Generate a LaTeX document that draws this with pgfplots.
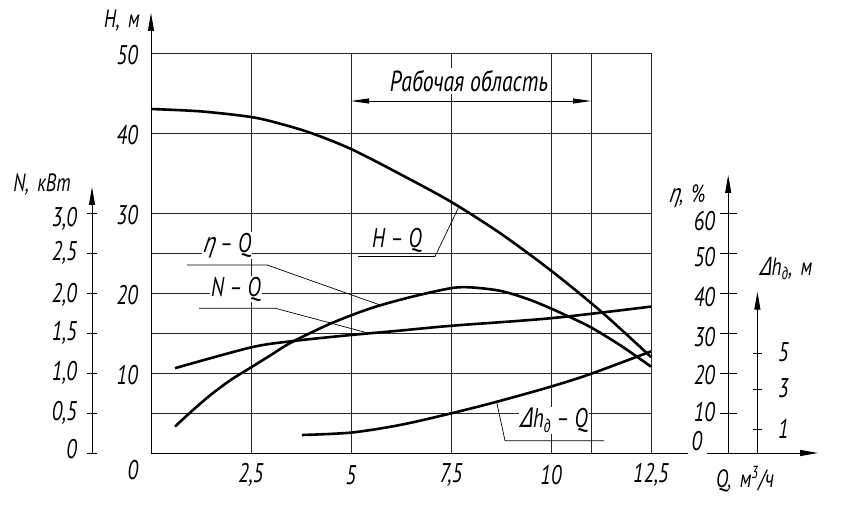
\documentclass[border=0pt]{standalone}
\usepackage{fontspec}
\setmainfont{PT Sans}[FakeStretch=0.75]
\newfontfamily\gr{DejaVu Sans}[FakeStretch=0.7,FakeSlant=0.2]
\usepackage{pgfplots}
\pgfplotsset{compat=1.18}
\usepackage{pgfplotstable}
\usetikzlibrary{arrows.meta}
\newcommand{\gostA}{\fontsize{27}{27}\selectfont\itshape}
\newcommand{\gostB}{\fontsize{25}{25}\selectfont\itshape}
\newcommand{\gostC}{\fontsize{29}{29}\selectfont\itshape}

% H-Q : head, m
\pgfplotstableread{
Q H
0 43.0
1.25 42.7
2.5 42.0
3.2 41.2
4 40.0
5 38.0
6.25 34.8
7.5 31.4
8.75 27.4
10 22.8
11.25 17.7
12.5 12.0
}\HQ
% eta-Q : efficiency, %
\pgfplotstableread{
Q eta
0.6 6.6
1.0 10.3
1.5 14.6
2.0 18.3
2.5 21.4
3.0 24.5
3.5 27.6
4.5 32.4
5.5 36.2
6.5 39.0
7.5 41.2
8.0 41.4
8.75 40.5
9.5 38.2
10.25 35.0
11 31.4
11.75 26.8
12.5 21.6
}\etaQ
% N-Q : power, kW
\pgfplotstableread{
Q N
0.6 1.06
2.5 1.32
3.56 1.40
5 1.475
6.225 1.53
7.5 1.59
10 1.685
12.5 1.83
}\NQ
% dh-Q : NPSH curve, in grid units of the H scale
\pgfplotstableread{
Q d
3.77 2.25
5 2.55
6.225 3.5
7.5 4.95
8.64 6.4
10 8.3
11 9.9
12.5 12.7
}\dhQ

\begin{document}
\begin{tikzpicture}
\begin{axis}[x=40pt,y=8pt,xmin=0,xmax=12.5,ymin=0,ymax=50,
  enlargelimits=false,clip=false,
  axis line style={draw=none},
  xtick={2.5,5,7.5,10,11,12.5},
  xticklabels={{2,5},{5},{7,5},{10},{},{12,5}},
  ytick={5,10,15,20,25,30,40,50},
  yticklabels={{},{10},{},{20},{},{30},{40},{50}},
  grid=major, grid style={black!85,line width=0.8pt},
  major tick length=0pt,
  tick label style={font=\gostA},
  xticklabel style={anchor=center,yshift=-22pt},
  yticklabel style={anchor=east,inner sep=0pt,xshift=-13pt,yshift=-2pt},
]
\addplot[black,line width=2.6pt,smooth] table[x=Q,y=H]{\HQ};
\addplot[black,line width=2.6pt,smooth] table[x=Q,y expr=\thisrow{eta}/2]{\etaQ};
\addplot[black,line width=2.6pt,smooth] table[x=Q,y expr=\thisrow{N}*10]{\NQ};
\addplot[black,line width=2.6pt,smooth] table[x=Q,y=d]{\dhQ};
\end{axis}

\begin{scope}[x=40pt,y=8pt]
% main axes
\draw[line width=1pt,-{Triangle[length=18pt,width=6pt]}] (0,0) -- (0,55);
\draw[line width=1pt] (0,0) -- (13.425,0);
\draw[line width=1pt,-{Triangle[length=18pt,width=6pt]}] (13.9,0) -- (16.675,0);
% N axis
\draw[line width=0.9pt,-{Triangle[length=18pt,width=6pt]}] (-1.475,0) -- (-1.475,33.25);
\foreach \y/\yl/\t in {0/0.5/0,5/5/{0,5},10/10/{1,0},15/15/{1,5},20/19.8/{2,0},25/25/{2,5},30/29.2/{3,0}}{
  \draw[line width=0.9pt] (-1.6,\y) -- (-1.36,\y);
  \node[anchor=east,inner sep=0pt,font=\gostA] at (-1.85,\yl) {\t};
}
% eta axis
\draw[line width=0.9pt,-{Triangle[length=18pt,width=6pt]}] (14.43,0) -- (14.43,34.75);
\foreach \y/\yl/\t in {5/5.1/10,10/9.7/20,15/14.5/30,20/19.5/40,25/24.5/50,30/29.0/60}{
  \draw[line width=0.9pt] (14.225,\y) -- (14.64,\y);
  \node[anchor=east,inner sep=0pt,font=\gostA] at (14.1,\yl) {\t};
}
\node[font=\gostA,inner sep=0pt] at (13.65,1.5) {0};
% dh axis
\draw[line width=0.9pt,-{Triangle[length=18pt,width=6pt]}] (15.16,0) -- (15.16,20.16);
\foreach \y/\yl/\t in {3.0/3.0/1,8.0/8.1/3,12.4/12.6/5}{
  \draw[line width=0.9pt] (15.05,\y) -- (15.27,\y);
  \node[anchor=west,inner sep=0pt,font=\gostA] at (15.675,\yl) {\t};
}
% axis names
\node[font=\gostB] at (-0.725,54.0) {H,\,\,м};
\node[font=\gostB] at (-2.725,33.6) {N,\,\,кВт};
\node[font=\gostB] at (13.4,32.1) {{\gr η},\,\,\%};
\node[font=\gostB] at (15.875,23.1) {{\gr Δ}h\textsubscript{д},\,\,м};
\node[font=\gostB] at (14.85,-3.25) {Q,\,\,м\textsuperscript{3}/ч};
\node[font=\gostA] at (-0.45,-2.1) {0};
% working range
\node[font=\gostC,fill=white,inner sep=2pt] at (7.95,46.5) {Рабочая область};
\draw[line width=0.9pt,{Triangle[length=18pt,width=5pt]}-{Triangle[length=18pt,width=5pt]}] (5,44) -- (11,44);
% curve labels
\draw[line width=0.7pt] (5.175,24.56) -- (7.1,24.56) -- (7.68,30.6);
\node[font=\gostA,fill=white,inner sep=1pt] at (6.15,26.6) {H – Q};
\draw[line width=0.7pt] (0.9,23.5) -- (2.9,23.5) -- (5.725,18.5);
\node[font=\gostA,fill=white,inner sep=1pt] at (1.9,25.9) {{\gr η} – Q};
\draw[line width=0.7pt] (1.2,18.1) -- (3.1,18.1) -- (5.39,15.04);
\node[font=\gostA,fill=white,inner sep=1pt] at (2.125,20.5) {N – Q};
\draw[line width=0.7pt] (11.325,1.54) -- (8.85,1.54) -- (8.64,6.41);
\node[font=\gostA,fill=white,inner sep=1pt] at (10.075,4.1) {{\gr Δ}h\textsubscript{д} – Q};
\end{scope}
\pgfresetboundingbox
\path[use as bounding box] (-151pt,-63pt) rectangle (694pt,453pt);
\end{tikzpicture}
\end{document}
